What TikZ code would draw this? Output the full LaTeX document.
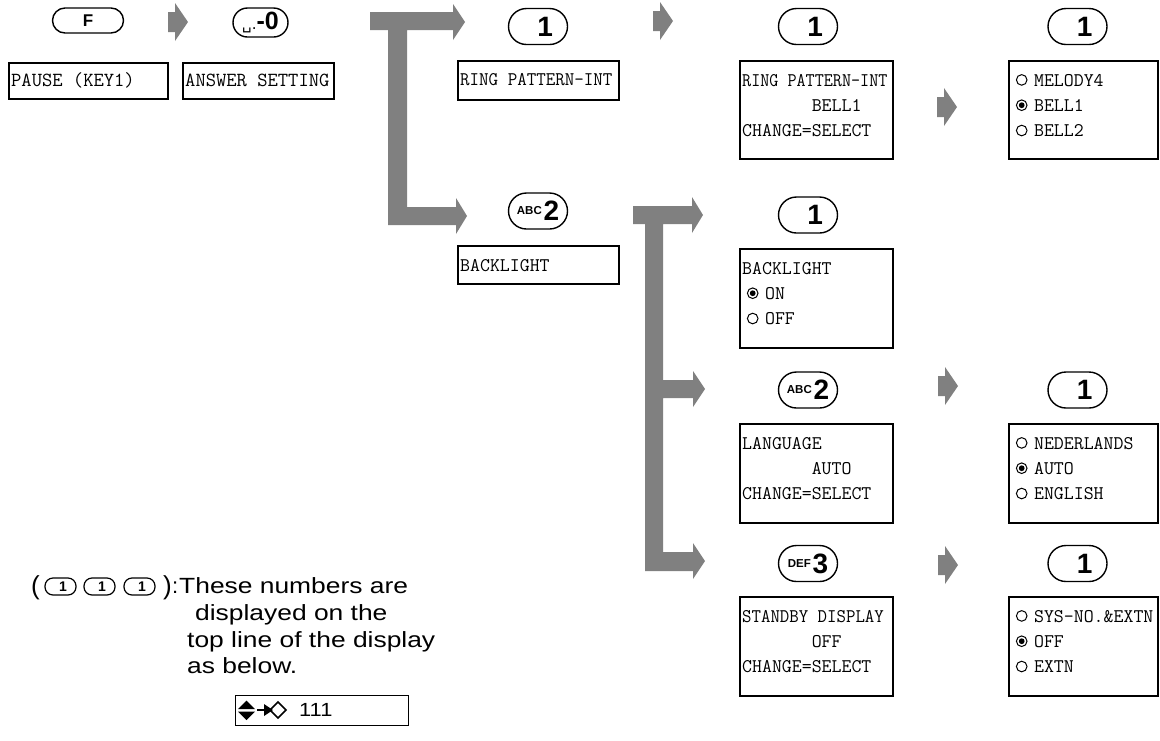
\documentclass[tikz,border=0pt]{standalone}
\usepackage{fontspec}
\usepackage{graphicx}
\setmainfont{Liberation Sans}
\newfontfamily\dejavu{DejaVu Sans}
\usetikzlibrary{shapes.misc}
\definecolor{arrowgray}{RGB}{128,128,128}
\newcommand\radoff{\tikz[baseline=-6.3pt,x=1pt,y=1pt]\draw[line width=1pt] (0,0) circle[radius=5.3pt];}
\newcommand\radon{\tikz[baseline=-6.3pt,x=1pt,y=1pt]{\draw[line width=1pt] (0,0) circle[radius=5.3pt];\fill (0,0) circle[radius=2.9pt];}}
\newcommand\bigdig[1]{{\fontsize{28}{28}\selectfont\bfseries #1}}
\newcommand\tinylbl[1]{\raisebox{6pt}{\fontsize{11.5}{11.5}\selectfont\bfseries #1}}
\newcommand\rdon[1]{\hspace*{4.7pt}\radon\hspace{6.6pt}#1}
\newcommand\rdoff[1]{\hspace*{4.7pt}\radoff\hspace{6.6pt}#1}
\newcommand\wide[1]{\scalebox{1.2}[1]{#1}}
\newcommand\smarrow[2]{\fill[arrowgray] (#1,#2) ++(0,-10) -- ++(7,0) -- ++(0,-9) -- ++(13,19) -- ++(-13,19) -- ++(0,-9) -- ++(-7,0) -- cycle;}
\begin{document}
\begin{tikzpicture}[x=1pt,y=-1pt,
  box/.style={draw, line width=1.5pt, inner sep=0pt, anchor=north west},
  mono/.style={font=\ttfamily\fontsize{19.3}{25.3}\selectfont, inner sep=0pt, align=left, anchor=north west},
  monoline/.style={font=\ttfamily\fontsize{19.3}{25.3}\selectfont, inner sep=0pt, anchor=base west},
  monobig/.style={font=\ttfamily\fontsize{20}{25.3}\selectfont, inner sep=0pt, anchor=base west},
  key/.style={draw, line width=1.4pt, rounded rectangle, inner sep=0pt, minimum width=59pt, minimum height=36pt},
  keyone/.style={key, text width=30pt, align=right, font=\bfseries\fontsize{28}{28}\selectfont},
  smallkey/.style={draw, line width=1.2pt, rectangle, rounded corners=8pt, inner sep=0pt, minimum width=31pt, minimum height=17pt, text width=13pt, align=right, font=\bfseries\fontsize{14}{14}\selectfont},
  legend/.style={font=\fontsize{22}{22}\selectfont, inner sep=0pt, anchor=base west}]
\useasboundingbox (0,0) rectangle (1160,740);

% big bracket arrows
\fill[arrowgray] (370,12) -- (453,12) -- (453,4) -- (465,22) -- (453,40) -- (453,30) -- (407,30) -- (407,207) -- (456,207) -- (456,198) -- (467,216) -- (456,234) -- (456,225) -- (388,225) -- (388,30) -- (370,30) -- cycle;
\fill[arrowgray] (633,206) -- (692,206) -- (692,197) -- (703,215) -- (692,233) -- (692,224) -- (663,224) -- (663,380) -- (693,380) -- (693,371) -- (705,389) -- (693,407) -- (693,398) -- (663,398) -- (663,552) -- (693,552) -- (693,543) -- (705,561) -- (693,579) -- (693,571) -- (645,571) -- (645,224) -- (633,224) -- cycle;

% small arrows
\smarrow{168}{22}
\smarrow{653}{21}
\smarrow{937}{107}
\smarrow{938}{386}
\smarrow{938}{565}

% keys
\node[key, minimum width=71pt, minimum height=25pt, font=\bfseries\fontsize{17}{17}\selectfont] (kF) at (88,20.5) {F};
\node[key, minimum width=55pt, minimum height=29pt] (k0) at (260.5,22.5) {{\dejavu\fontsize{15}{15}\selectfont ␣.}{\fontsize{25}{25}\selectfont\bfseries -0}};
\node[keyone] (k1a) at (538,26.5) {1};
\node[keyone] (k1b) at (808,26.5) {1};
\node[keyone] (k1c) at (1077.5,26.5) {1};
\node[key] (kA1) at (538,211) {\tinylbl{ABC}\,\bigdig{2}};
\node[keyone] (k1d) at (808,215) {1};
\node[key] (kA2) at (808,390) {\tinylbl{ABC}\,\bigdig{2}};
\node[keyone] (k1e) at (1077.5,390) {1};
\node[key] (kD3) at (808,563.5) {\tinylbl{DEF}\,\bigdig{3}};
\node[keyone] (k1f) at (1077.5,563.5) {1};

% boxes
\node[box, minimum width=159pt, minimum height=36pt] (bPause) at (8,62) {};
\node[monobig] (tPause) at (11,86.5) {PAUSE (KEY1)};
\node[box, minimum width=151pt, minimum height=36pt] (bAns) at (182,62) {};
\node[monobig] (tAns) at (185,86.5) {ANSWER SETTING};
\node[box, minimum width=161pt, minimum height=39pt] (bRing2) at (457,60) {};
\node[monoline] (tRing2) at (460,85.5) {\scalebox{0.957}[1]{RING PATTERN-INT}};
\node[box, minimum width=161pt, minimum height=38pt] (bBack2) at (457,245) {};
\node[monoline] (tBack2) at (460,271) {BACKLIGHT};

\node[box, minimum width=153pt, minimum height=98pt] (bRing3) at (739,60) {};
\node[mono] (tRing3) at (742,68.3) {\strut\scalebox{0.913}[1]{RING PATTERN-INT}\\\strut\phantom{XXXXXXX}BELL1\\\strut CHANGE=SELECT};
\node[box, minimum width=149pt, minimum height=98pt] (bMel4) at (1008,60) {};
\node[mono] (tMel4) at (1011,68.3) {\strut\rdoff{MELODY4}\\\strut\rdon{BELL1}\\\strut\rdoff{BELL2}};

\node[box, minimum width=153pt, minimum height=99pt] (bBack3) at (739,248) {};
\node[mono] (tBack3) at (742,256.3) {\strut BACKLIGHT\\\strut\rdon{ON}\\\strut\rdoff{OFF}};

\node[box, minimum width=153pt, minimum height=99pt] (bLang3) at (739,423) {};
\node[mono] (tLang3) at (742,431.3) {\strut LANGUAGE\\\strut\phantom{XXXXXXX}AUTO\\\strut CHANGE=SELECT};
\node[box, minimum width=149pt, minimum height=99pt] (bNed4) at (1008,423) {};
\node[mono] (tNed4) at (1011,431.3) {\strut\rdoff{NEDERLANDS}\\\strut\rdon{AUTO}\\\strut\rdoff{ENGLISH}};

\node[box, minimum width=153pt, minimum height=99pt] (bStb3) at (739,596) {};
\node[mono] (tStb3) at (742,604.3) {\strut\scalebox{0.95}[1]{STANDBY DISPLAY}\\\strut\phantom{XXXXXXX}OFF\\\strut CHANGE=SELECT};
\node[box, minimum width=149pt, minimum height=99pt] (bSys4) at (1008,596) {};
\node[mono] (tSys4) at (1011,604.3) {\strut\rdoff{SYS-NO.\&EXTN}\\\strut\rdon{OFF}\\\strut\rdoff{EXTN}};

% legend
\node[font=\fontsize{26}{26}\selectfont, inner sep=0pt, anchor=base west] (lp) at (31,594) {(};
\node[smallkey] (lk1) at (60.5,586.5) {1};
\node[smallkey] (lk2) at (99.5,586.5) {1};
\node[smallkey] (lk3) at (139.5,586.5) {1};
\node[font=\fontsize{26}{26}\selectfont, inner sep=0pt, anchor=base west] (rp) at (163,594) {)};
\node[legend] (col) at (172,593) {:};
\node[legend] (l1) at (179,593) {\wide{These numbers are}};
\node[legend] (l2) at (195,620) {\wide{displayed on the}};
\node[legend] (l3) at (187,647) {\wide{top line of the display}};
\node[legend] (l4) at (187,673) {\wide{as below.}};

\node[box, minimum width=173pt, minimum height=30pt, line width=1.4pt] (disp) at (235,695) {};
\fill (238,709) -- (255,709) -- (246.5,700.5) -- cycle;
\fill (238,711.5) -- (255,711.5) -- (246.5,720) -- cycle;
\draw[line width=2.4pt] (257,710) -- (266,710);
\fill (264,704) -- (273,710) -- (264,716) -- cycle;
\draw[line width=1.5pt] (270,710) -- (278,702) -- (286,710) -- (278,718) -- cycle;
\node[font=\fontsize{19}{19}\selectfont, anchor=west, inner sep=0pt] (num) at (299,710) {\scalebox{1.15}[1]{111}};
\end{tikzpicture}
\end{document}
